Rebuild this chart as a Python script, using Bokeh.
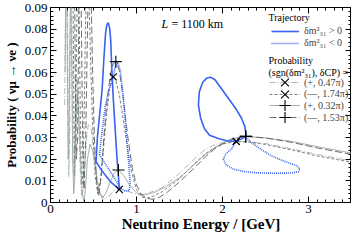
from bokeh.plotting import figure
from bokeh.models import (Label, Legend, LegendItem, LinearAxis, SingleIntervalTicker,
                          CustomJSTickFormatter)
from bokeh.embed import file_html
from bokeh.resources import INLINE

# ---- probability curves P(E) ----
c1_E = [0.165,0.175,0.185,0.195,0.205,0.213,0.222,0.232,0.242,0.252,0.262,0.272,0.285,0.30,0.315,0.33,0.35,0.365,0.38,0.40,0.42,0.44,0.47,0.50,0.54,0.58,0.63,0.68,0.74,0.80,0.87,0.95,1.05,1.15,1.3,1.5,1.7,1.8,1.9,2.0,2.16,2.3,2.5,2.8,3.1,3.5]
c1_P = [0.045,0.09,0.12,0.10,0.045,0.012,0.03,0.08,0.11,0.07,0.02,0.012,0.035,0.058,0.055,0.035,0.01,0.002,0.006,0.018,0.030,0.036,0.035,0.025,0.012,0.004,0.0015,0.003,0.0055,0.006,0.0056,0.0045,0.0035,0.0045,0.0068,0.0135,0.0212,0.0245,0.0265,0.0276,0.0282,0.028,0.0272,0.0248,0.0222,0.0192]

c2_E = [0.262,0.272,0.28,0.29,0.305,0.32,0.335,0.35,0.365,0.38,0.395,0.41,0.43,0.45,0.47,0.49,0.52,0.55,0.58,0.61,0.65,0.69,0.73,0.76,0.80,0.85,0.90,0.95,1.0,1.06,1.12,1.2,1.3,1.5,1.7,1.8,1.9,2.0,2.16,2.3,2.5,2.8,3.1,3.5]
c2_P = [0.10,0.04,0.012,0.03,0.08,0.11,0.08,0.03,0.008,0.015,0.05,0.09,0.115,0.09,0.06,0.035,0.012,0.004,0.010,0.022,0.040,0.053,0.058,0.056,0.050,0.037,0.024,0.013,0.006,0.0025,0.002,0.003,0.005,0.011,0.019,0.0225,0.0252,0.027,0.0282,0.0279,0.0268,0.0243,0.0215,0.0186]

c3_E = [0.17,0.178,0.186,0.195,0.205,0.215,0.225,0.235,0.245,0.258,0.27,0.28,0.295,0.31,0.325,0.34,0.355,0.37,0.39,0.41,0.43,0.46,0.49,0.52,0.56,0.60,0.64,0.69,0.74,0.79,0.85,0.92,1.0,1.08,1.2,1.35,1.5,1.7,1.8,1.9,2.0,2.1,2.27,2.5,2.8,3.1,3.5]
c3_P = [0.06,0.10,0.11,0.07,0.02,0.03,0.075,0.10,0.07,0.02,0.004,0.01,0.035,0.05,0.045,0.03,0.015,0.004,0.0005,0.008,0.02,0.027,0.024,0.016,0.006,0.002,0.004,0.009,0.0135,0.015,0.0125,0.008,0.0045,0.0035,0.0045,0.0075,0.0115,0.0185,0.022,0.025,0.0275,0.0293,0.0305,0.0298,0.0282,0.0258,0.0228]

c4_E = [0.27,0.28,0.29,0.30,0.315,0.33,0.345,0.36,0.375,0.39,0.41,0.43,0.45,0.47,0.49,0.51,0.535,0.56,0.59,0.62,0.66,0.70,0.73,0.76,0.80,0.85,0.90,0.95,1.0,1.06,1.12,1.18,1.25,1.35,1.5,1.7,1.8,1.9,2.0,2.1,2.27,2.5,2.8,3.1,3.5]
c4_P = [0.11,0.10,0.05,0.02,0.03,0.09,0.12,0.08,0.025,0.006,0.03,0.08,0.12,0.10,0.06,0.03,0.01,0.003,0.012,0.030,0.048,0.060,0.064,0.065,0.061,0.047,0.030,0.016,0.008,0.0035,0.002,0.0015,0.002,0.0045,0.0095,0.017,0.021,0.0245,0.027,0.029,0.0305,0.0298,0.0278,0.0252,0.0222]

# ---- trajectories ----
tp_lo_E = [0.80,0.70,0.60,0.53,0.545,0.575,0.60,0.62,0.64,0.655,0.672,0.69,0.70,0.715,0.73,0.75,0.775,0.79,0.80]
tp_lo_P = [0.006,0.0095,0.0145,0.0188,0.030,0.042,0.052,0.066,0.078,0.082,0.083,0.080,0.075,0.060,0.048,0.035,0.0195,0.012,0.006]
tp_hi_E = [2.16,2.05,1.95,1.85,1.79,1.745,1.72,1.73,1.77,1.82,1.86,1.91,1.98,2.07,2.16,2.22,2.26,2.275,2.27,2.16]
tp_hi_P = [0.0282,0.0285,0.0295,0.031,0.034,0.039,0.045,0.051,0.0555,0.0575,0.0578,0.0568,0.053,0.048,0.043,0.039,0.035,0.031,0.0303,0.0282]
tn_lo_E = [0.57,0.60,0.64,0.68,0.73,0.76,0.785,0.81,0.835,0.86,0.885,0.91,0.925,0.915,0.87,0.82,0.70,0.57]
tn_lo_P = [0.022,0.033,0.045,0.052,0.058,0.064,0.0645,0.061,0.053,0.042,0.030,0.018,0.009,0.0055,0.0052,0.0065,0.014,0.022]
tn_hi_E = [2.16,2.11,2.04,2.01,2.04,2.12,2.25,2.4,2.6,2.8,2.88,2.9,2.86,2.72,2.57,2.45,2.34,2.27]
tn_hi_P = [0.0282,0.025,0.0225,0.020,0.0175,0.0155,0.0143,0.0137,0.0135,0.0136,0.0142,0.0155,0.017,0.019,0.0215,0.0245,0.0275,0.0303]

# ---- marked extrema ----
m1_E, m1_P = [0.80, 2.16], [0.006, 0.0282]
m2_E, m2_P = [0.73, 2.16], [0.058, 0.0282]
m3_E, m3_P = [0.79, 2.27], [0.015, 0.0305]
m4_E, m4_P = [0.76, 2.27], [0.065, 0.0305]

labels_prob = ["(+, 0.47\u03c0)", "(\u2014, 1.74\u03c0)", "(+, 0.32\u03c0)", "(\u2014, 1.53\u03c0)"]
labels_traj = ["\u03b4m\u00b2\u2083\u2081 > 0", "\u03b4m\u00b2\u2083\u2081 < 0"]

FONT = "Liberation Serif"
BLUE = "#3a62f0"
X_MAX, Y_MAX = 3.5, 0.09

p = figure(frame_width=301, frame_height=195, x_range=(0, X_MAX), y_range=(0, Y_MAX),
           output_backend="svg", toolbar_location=None,
           min_border_left=44, min_border_right=0, min_border_top=7, min_border_bottom=0)
p.grid.visible = False
p.outline_line_color = "black"
p.background_fill_color = "white"

def style_axis(ax, interval, nminor, show):
    ax.ticker = SingleIntervalTicker(interval=interval, num_minor_ticks=nminor)
    ax.major_tick_in = 6
    ax.major_tick_out = 0
    ax.minor_tick_in = 3
    ax.minor_tick_out = 0
    ax.axis_line_color = "black"
    ax.major_tick_line_color = "black"
    ax.minor_tick_line_color = "black"
    if show:
        ax.major_label_text_font = FONT
        ax.major_label_text_font_size = "13px"
        ax.major_label_text_color = "black"
        ax.axis_label_text_font = FONT
        ax.axis_label_text_font_style = "bold"
        ax.axis_label_text_color = "black"
    else:
        ax.major_label_text_font_size = "0px"
        ax.major_label_standoff = 0
        ax.formatter = CustomJSTickFormatter(code="return ''")

xa = p.xaxis[0]
ya = p.yaxis[0]
style_axis(xa, 1, 10, True)
style_axis(ya, 0.01, 5, True)
xa.axis_label_text_font_size = "15px"
ya.axis_label_text_font_size = "13px"
xa.formatter = CustomJSTickFormatter(code="return tick.toFixed(0)")
ya.formatter = CustomJSTickFormatter(code="return Math.abs(tick) < 1e-9 ? '0' : tick.toFixed(2)")
xa.axis_label = "Neutrino Energy / [GeV]"
ya.axis_label = "Probability ( \u03bd\u03bc \u2192 \u03bde )"
xa.major_label_standoff = 2
ya.major_label_standoff = 3
xa.axis_label_standoff = 0
ya.axis_label_standoff = 3

# mirrored tick marks on the top and right frame edges (take no layout space)
top = LinearAxis(fixed_location=Y_MAX)
right = LinearAxis(fixed_location=X_MAX)
style_axis(top, 1, 10, False)
style_axis(right, 0.01, 5, False)
p.add_layout(top, "above")
p.add_layout(right, "right")

r1 = p.line(c1_E, c1_P, line_color="#a3b0b0", line_width=0.9, line_dash="6 2 1 2")
r2 = p.line(c2_E, c2_P, line_color="#606060", line_width=0.8, line_dash="3 2")
r3 = p.line(c3_E, c3_P, line_color="#9aa6a6", line_width=0.9)
r4 = p.line(c4_E, c4_P, line_color="#4a4a4a", line_width=0.8, line_dash="7 3")

rp = p.line(tp_lo_E, tp_lo_P, line_color=BLUE, line_width=1.6)
p.line(tp_hi_E, tp_hi_P, line_color=BLUE, line_width=1.6)
rn = p.line(tn_lo_E, tn_lo_P, line_color=BLUE, line_width=1.6, line_dash="1 1")
p.line(tn_hi_E, tn_hi_P, line_color=BLUE, line_width=1.6, line_dash="1 1")

s1 = p.scatter(m1_E, m1_P, marker="x", size=10, line_color="black", line_width=1.1)
s2 = p.scatter(m2_E, m2_P, marker="x", size=10, line_color="black", line_width=1.1)
s3 = p.scatter(m3_E, m3_P, marker="cross", size=12, line_color="black", line_width=1.1)
s4 = p.scatter(m4_E, m4_P, marker="cross", size=12, line_color="black", line_width=1.1)

def add_legend(label, renderers, vx, row_from_bottom, gw, gh, standoff):
    leg = Legend(items=[LegendItem(label=label, renderers=renderers)],
                 location=(vx, row_from_bottom - gh / 2), glyph_width=gw, glyph_height=gh,
                 label_height=gh, spacing=0, padding=0, margin=0, label_standoff=standoff,
                 label_text_font=FONT, label_text_font_size="10px",
                 label_text_baseline="middle",
                 background_fill_alpha=0, border_line_alpha=0)
    p.add_layout(leg)

# rows measured from the frame bottom, in pixels
add_legend(labels_traj[0], [rp], 221, 171.5, 28, 20, 5)
add_legend(labels_traj[1], [rn], 221, 159.5, 28, 20, 5)
add_legend(labels_prob[0], [r1, s1], 219, 120.0, 31, 28, 4)
add_legend(labels_prob[1], [r2, s2], 219, 108.3, 31, 28, 4)
add_legend(labels_prob[2], [r3, s3], 219, 96.7, 31, 28, 4)
add_legend(labels_prob[3], [r4, s4], 219, 85.0, 31, 28, 4)

def lab(txt, x, y, size="10px", style="normal"):
    p.add_layout(Label(x=x, y=y, x_units="screen", y_units="screen", text=txt,
                       text_font=FONT, text_font_size=size, text_font_style=style,
                       text_baseline="middle", text_align="left", text_color="black"))

lab("Trajectory", 218, 185)
lab("Probability", 218, 142)
lab("(sgn(\u03b4m\u00b2\u2083\u2081), \u03b4CP) =", 218, 130)
lab("L", 111, 179, "12px", "italic")
lab("= 1100 km", 121, 179, "12px")

open("out.html", "w").write(file_html(p, INLINE))
